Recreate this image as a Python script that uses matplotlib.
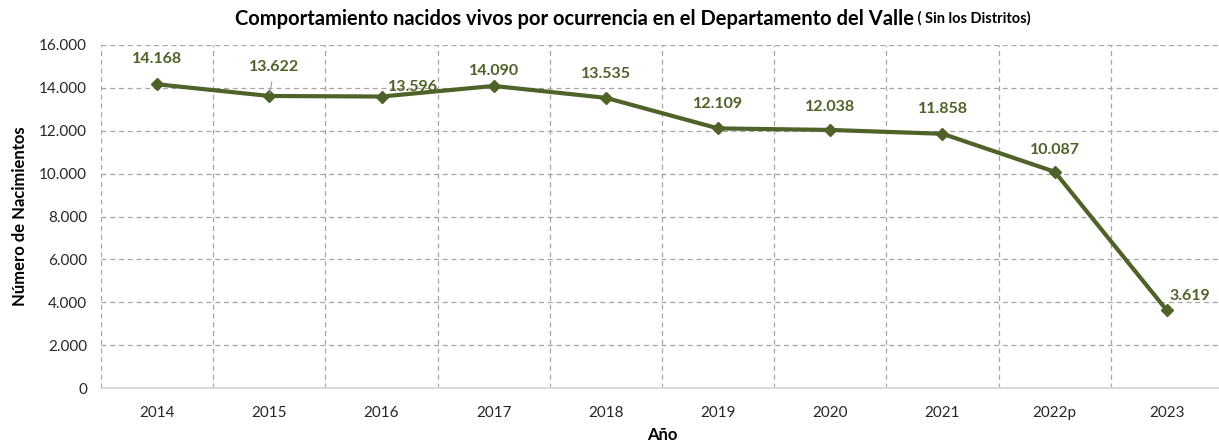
import matplotlib
matplotlib.use("Agg")
import matplotlib.pyplot as plt
from matplotlib.ticker import FuncFormatter, MultipleLocator

plt.rcParams['font.family'] = ['Lato', 'DejaVu Sans']

years = ["2014", "2015", "2016", "2017", "2018", "2019", "2020", "2021", "2022p", "2023"]
births = [14168, 13622, 13596, 14090, 13535, 12109, 12038, 11858, 10087, 3619]
# label offsets in pixels (dx, dy) relative to each point
label_offsets = [(0, 25), (5, 29), (31, 10), (0, 15), (0, 24), (0, 24), (0, 23), (0, 25), (0, 22), (23, 14)]

line_color = "#4F6228"
label_color = "#4F6228"

fig = plt.figure(figsize=(12.19, 4.47), dpi=100)
ax = fig.add_axes([101/1219, 1-388/447, (1223-101)/1219, (388-45)/447])

x = list(range(len(years)))
ax.plot(x, births, color=line_color, lw=3.0, marker='D', markersize=6, zorder=3)

def fmt(v):
    return f"{v:,}".replace(",", ".")

for i, (xi, v) in enumerate(zip(x, births)):
    dx, dy = label_offsets[i]
    ax.annotate(fmt(v), (xi, v), xytext=(dx, dy), textcoords='offset pixels',
                ha='center', va='center', fontsize=11.5, fontweight='bold',
                color=label_color, zorder=4)
# leader line for 2015
ax.annotate("", (1, births[1]), xytext=(3, 17), textcoords='offset pixels',
            arrowprops=dict(arrowstyle='-', color='#a0a0a0', lw=0.8))

ax.set_xlim(-0.5, len(years) - 0.5)
ax.set_ylim(0, 16000)
ax.yaxis.set_major_locator(MultipleLocator(2000))
ax.yaxis.set_major_formatter(FuncFormatter(lambda v, p: fmt(int(v))))
ax.set_xticks(x)
ax.set_xticklabels(years)
ax.set_xticks([i - 0.5 for i in range(len(years) + 1)], minor=True)

ax.grid(False)
ax.grid(axis='y', which='major', linestyle=(0, (4, 3)), color='#a6a6a6', lw=0.9)
ax.grid(axis='x', which='minor', linestyle=(0, (4, 3)), color='#a6a6a6', lw=0.9)
ax.set_axisbelow(True)

for s in ['top', 'right', 'left']:
    ax.spines[s].set_visible(False)
ax.spines['bottom'].set_color('#d9d9d9')
ax.spines['bottom'].set_linewidth(1.5)

ax.tick_params(axis='both', which='both', length=0, labelsize=11, colors='#262626')
ax.tick_params(axis='x', pad=13)
ax.tick_params(axis='y', pad=10)

ax.set_xlabel("Año", fontsize=12, fontweight='bold', labelpad=5)
ax.set_ylabel("Número de Nacimientos", fontsize=12, fontweight='bold', labelpad=8)

t1 = "Comportamiento nacidos vivos por ocurrencia en el Departamento del Valle"
t2 = " ( Sin los Distritos)"
fig.canvas.draw()
r = fig.canvas.get_renderer()
a = fig.text(0, 0.958, t1, fontsize=14.5, fontweight='bold', va='center')
b = fig.text(0, 0.958, t2, fontsize=10.5, fontweight='bold', va='center')
wa = a.get_window_extent(r).width
wb = b.get_window_extent(r).width
x0 = (633 - (wa + wb) / 2) / 1219
a.set_x(x0)
b.set_x(x0 + wa / 1219)

fig.savefig("out.png", dpi=100)
